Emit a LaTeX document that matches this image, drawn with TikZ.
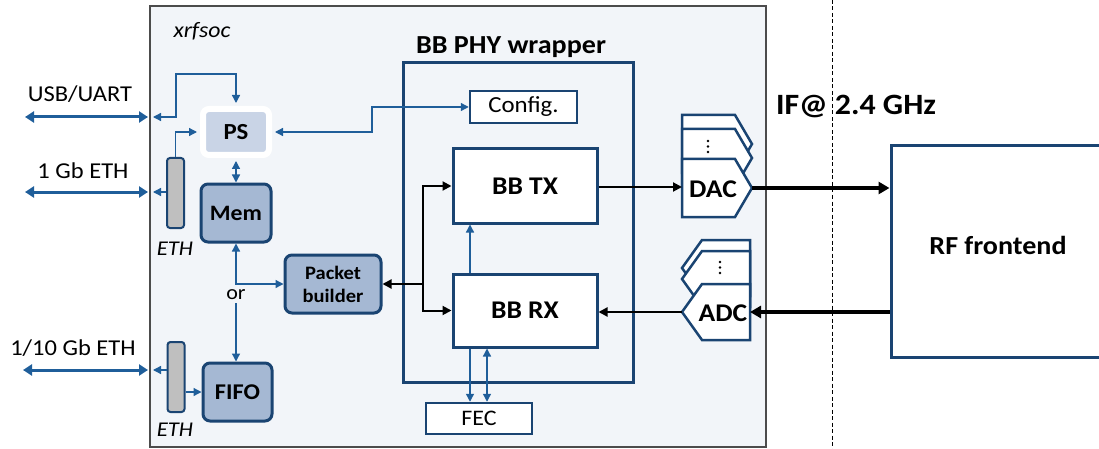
\documentclass[tikz,border=0pt]{standalone}
\usepackage{fontspec}
\setmainfont{Carlito}[FakeStretch=1.08]
\usetikzlibrary{arrows.meta}
\definecolor{dkblue}{HTML}{1A4472}
\definecolor{arblue}{HTML}{1F5E9A}
\definecolor{socfill}{HTML}{F2F5F9}
\definecolor{memfill}{HTML}{A5B8D3}
\definecolor{psfill}{HTML}{C9D4E6}
\definecolor{ethfill}{HTML}{BFBFBF}
\newcommand\myfs[1]{\fontsize{#1}{#1}\selectfont}
\begin{document}
\begin{tikzpicture}[x=1pt,y=-1pt,
  sqbox/.style={draw=dkblue, line width=3pt, fill=white, inner sep=0pt, font=\bfseries\myfs{25.5}},
  smbox/.style={draw=dkblue, line width=2.5pt, fill=white, inner sep=0pt, font=\myfs{23}},
  rbox/.style={draw=dkblue, line width=3pt, fill=memfill, rounded corners=7pt, inner sep=0pt, font=\bfseries\myfs{22.5}},
  ethbar/.style={draw=dkblue, line width=2pt, fill=ethfill, rounded corners=3pt, inner sep=0pt, minimum width=17pt, minimum height=70pt},
  lbl/.style={inner sep=0pt, font=\myfs{22.7}},
  ethlbl/.style={inner sep=0pt, font=\itshape\myfs{21}},
  barrow/.style={draw=arblue, line width=1.3pt, -{Triangle[length=8pt,width=8pt]}},
  bbarrow/.style={draw=arblue, line width=1.3pt, {Triangle[length=8pt,width=8pt]}-{Triangle[length=8pt,width=8pt]}},
  extarrow/.style={draw=arblue, line width=3pt, {Triangle[length=9pt,width=11pt]}-{Triangle[length=9pt,width=11pt]}},
  karrow/.style={draw=black, line width=2pt, -{Triangle[length=9pt,width=9pt]}},
  kthick/.style={draw=black, line width=3.5pt, -{Triangle[length=11pt,width=12pt]}},
  conv/.style={draw=dkblue, line width=2.5pt, fill=white, line join=miter}
]
\useasboundingbox (0,0) rectangle (1099,449);

% xrfsoc area
\node[draw=black!70, line width=1.2pt, fill=socfill, minimum width=616pt, minimum height=441pt, inner sep=0pt] (soc) at (458,226.5) {};
\node[inner sep=0pt, font=\itshape\myfs{22}] (socl) at (202,31) {xrfsoc};

% dashed separation
\coordinate (dtop) at (832,0);
\coordinate (dbot) at (832,449);
\draw[black, line width=1pt, dash pattern=on 4pt off 2.5pt] (dtop) -- (dbot);
\node[inner sep=0pt, font=\bfseries\myfs{29.5}] (ifl) at (856,107) {IF@ 2.4 GHz};

% RF frontend
\node[draw=dkblue, line width=3pt, fill=white, minimum width=220pt, minimum height=211pt, inner sep=0pt] (rf) at (1001,251.5) {};
\node[inner sep=0pt, font=\bfseries\myfs{26}] (rfl) at (998,245) {RF frontend};

% BB PHY wrapper
\node[draw=dkblue, line width=3pt, minimum width=230pt, minimum height=319pt, inner sep=0pt] (wrap) at (518,222.5) {};
\node[inner sep=0pt, font=\bfseries\myfs{26}] (wrapl) at (511,47) {BB PHY wrapper};
\node[smbox, minimum width=107pt, minimum height=32pt] (config) at (523.5,107) {Config.};
\node[sqbox, minimum width=144pt, minimum height=74pt] (tx) at (525,186) {BB TX};
\node[sqbox, minimum width=144pt, minimum height=73pt] (rx) at (525,310.5) {BB RX};
\node[smbox, minimum width=106pt, minimum height=31pt, font=\myfs{22.2}] (fec) at (479,418.5) {FEC};

% PS, Mem, FIFO, Packet builder
\node[draw=white, line width=6pt, fill=psfill, rounded corners=6pt, minimum width=66pt, minimum height=46pt, inner sep=0pt, font=\bfseries\myfs{23}] (ps) at (236,132) {PS};
\node[rbox, minimum width=70pt, minimum height=58pt, font=\bfseries\myfs{22}] (mem) at (236,213) {Mem};
\node[rbox, minimum width=69pt, minimum height=58pt] (fifo) at (237.5,392) {FIFO};
\node[rbox, minimum width=96pt, minimum height=58pt, align=center, font=\bfseries\fontsize{19}{23}\selectfont] (pb) at (333,284) {Packet\\builder};

% ETH bars
\node[ethbar] (eth1) at (175.5,193) {};
\node[ethbar] (eth2) at (176,377) {};
\node[ethlbl] (eth1l) at (175,249) {ETH};
\node[ethlbl] (eth2l) at (175,430) {ETH};

% external labels and arrows
\node[lbl] (usbl) at (80,94) {USB/UART};
\node[lbl] (eth1gl) at (83,171) {1 Gb ETH};
\node[lbl] (eth10l) at (73,348) {1/10 Gb ETH};
\coordinate (usbL) at (25,117);
\coordinate (usbR) at (148,117);
\coordinate (e1L) at (25,192);
\coordinate (e1R) at (148,192);
\coordinate (e10L) at (23,370);
\coordinate (e10R) at (148,370);
\draw[extarrow] (usbL) -- (usbR);
\draw[extarrow] (e1L) -- (e1R);
\draw[extarrow] (e10L) -- (e10R);

% inner blue connectors
\coordinate (usbIn) at (153,117);
\coordinate (usbK) at (176,74);
\coordinate (e1In) at (153,192);
\coordinate (e10In) at (153,370);
\coordinate (kc) at (372,132);
\coordinate (xa) at (470,0);
\coordinate (xb) at (487,0);
\draw[bbarrow, shorten >=3pt] (usbIn) -| (usbK) -| (ps.north);
\draw[barrow] (e1In -| eth1.west) -- (e1In);
\draw[barrow, shorten >=3pt] (eth1.north) |- (ps.west);
\draw[bbarrow, shorten <=3pt] (ps.south) -- (mem.north);
\draw[bbarrow, shorten <=3pt] (ps.east) -- (kc) |- (config.west);
\draw[bbarrow] (mem.south) |- (pb.west);
\node[inner sep=0pt, font=\myfs{20.4}] (or) at (236,295) {or};
\draw[barrow] ([yshift=-3pt]or.south) -- (or.south |- fifo.north);
\draw[barrow] (e10In -| eth2.west) -- (e10In);
\draw[barrow] (eth2.east |- fifo.west) -- (fifo.west);
\draw[barrow] (rx.north -| xa) -- (tx.south -| xa);
\draw[barrow] (rx.south -| xa) -- (fec.north -| xa);
\draw[bbarrow] (rx.south -| xb) -- (fec.north -| xb);

% black data path
\coordinate (J) at (423,284);
\draw[karrow] (J) -- (pb.east);
\draw[karrow] (J) |- (tx.west);
\draw[karrow] (J) |- (rx.west);

% DAC stack
\draw[conv] (682,115) -- (735,115) -- (752,144) -- (735,173) -- (682,173) -- cycle;
\draw[conv] (682,129) -- (735,129) -- (752,158) -- (735,187) -- (682,187) -- cycle;
\draw[conv] (682,159) -- (735,159) -- (752,188) -- (735,217) -- (682,217) -- cycle;
\fill (708,141) circle (1.3pt) (708,146.5) circle (1.3pt) (708,152) circle (1.3pt);
\node[inner sep=0pt, font=\bfseries\myfs{25.5}] (dac) at (713,189) {DAC};
\coordinate (dacL) at (682,187);
\coordinate (dacT) at (752,188);

% ADC stack
\draw[conv] (750,240) -- (702,240) -- (682,268) -- (702,296) -- (750,296) -- cycle;
\draw[conv] (750,251) -- (702,251) -- (682,279) -- (702,307) -- (750,307) -- cycle;
\draw[conv] (750,284) -- (702,284) -- (682,312) -- (702,340) -- (750,340) -- cycle;
\fill (720,262) circle (1.3pt) (720,267.5) circle (1.3pt) (720,273) circle (1.3pt);
\node[inner sep=0pt, font=\bfseries\myfs{25.5}] (adc) at (723,313) {ADC};
\coordinate (adcR) at (750,312);
\coordinate (adcT) at (682,312);

% TX/RX to converters
\draw[karrow] (tx.east |- dacL) -- (dacL);
\draw[karrow] (adcT) -- (rx.east |- adcT);
\draw[kthick] (dacT) -- (rf.west |- dacT);
\draw[kthick] (rf.west |- adcR) -- (adcR);
\end{tikzpicture}
\end{document}
